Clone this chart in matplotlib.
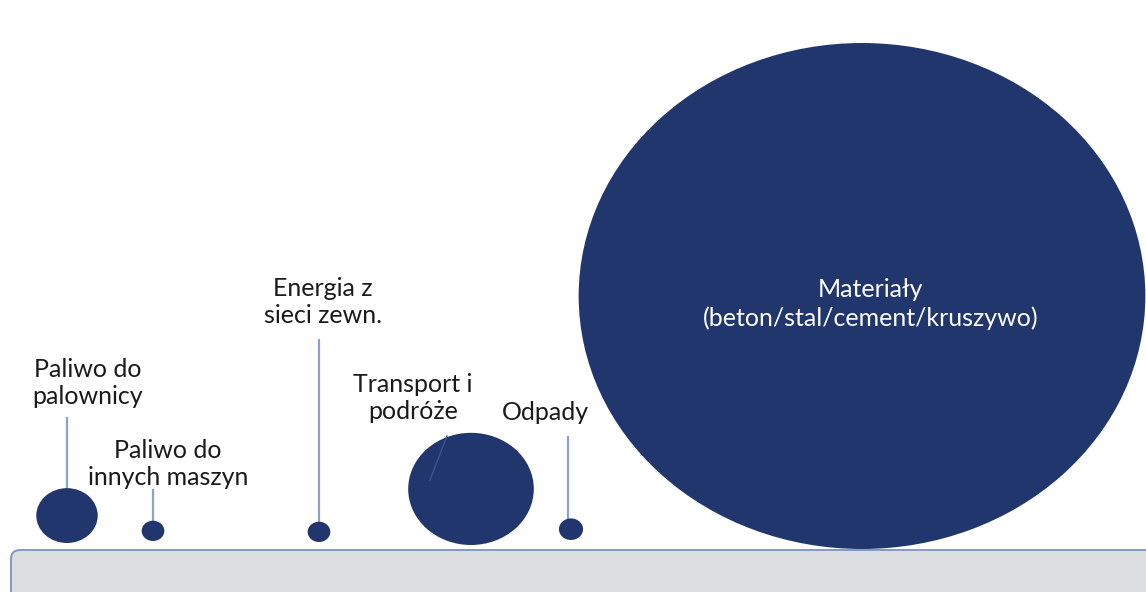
import matplotlib.pyplot as plt
from matplotlib.patches import Ellipse, FancyBboxPatch
import numpy as np

# share of emissions per source
sources = ['Paliwo do\npalownicy', 'Paliwo do\ninnych maszyn', 'Energia z\nsieci zewn.',
           'Transport i\npodróże', 'Odpady', 'Materiały\n(beton/stal/cement/kruszywo)']
shares = [1.1, 0.15, 0.15, 4.6, 0.17, 93.6]

# layout (pixel space)
bubble_x = [67, 153, 319, 471, 571, 862]
bubble_base = [543, 541, 542, 545, 540, 549]
label_xy = [(88, 383), (168, 464), (323, 302), (413, 398), (545, 413), (871, 304)]
leader_top = [418, 490, 340, None, 437, None]

dark = '#22366e'
line_col = '#8ea2c9'
scale = 26.15      # px of radius per sqrt(share)
stretch = 1.12     # the source picture is stretched horizontally

fig = plt.figure(figsize=(11.46, 5.92), dpi=100)
ax = fig.add_axes([0, 0, 1, 1])
ax.set_xlim(0, 1146)
ax.set_ylim(592, 0)
ax.axis('off')

# base panel
base = FancyBboxPatch((11, 550), 1200, 100, boxstyle='round,pad=0,rounding_size=9',
                      facecolor='#dddee2', edgecolor='#8298c4', linewidth=1.4, zorder=1)
ax.add_patch(base)

for i, (name, val) in enumerate(zip(sources, shares)):
    r = scale * np.sqrt(val)
    cy = bubble_base[i] - r
    ax.add_patch(Ellipse((bubble_x[i], cy), 2 * r * stretch, 2 * r,
                         facecolor=dark, edgecolor='none', zorder=3))
    if leader_top[i] is not None:
        ax.plot([bubble_x[i] + (0 if i != 4 else -3)] * 2, [leader_top[i], cy - r + 2],
                color=line_col, lw=1.6, zorder=2)
    tx, ty = label_xy[i]
    ax.text(tx, ty, name, ha='center', va='center', fontsize=18, family='Lato',
            color='white' if i == 5 else '#1a1a1a', linespacing=1.25, zorder=4)

# faint leader of the transport label
ax.plot([447, 430], [436, 480], color='#3c5590', lw=1, zorder=4)

fig.savefig('out.png', dpi=100)
